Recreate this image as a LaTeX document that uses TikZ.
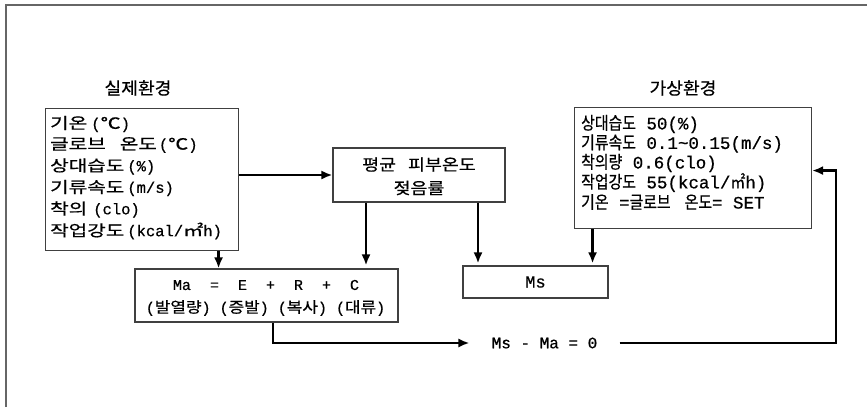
\documentclass[tikz,border=0pt]{standalone}
\usepackage{fontspec}
\setmainfont{Liberation Mono}[FakeBold=0.6]
\newfontfamily\krL{Noto Sans CJK KR}[FakeStretch=1.3,FakeBold=0.6]
\newfontfamily\krR{Noto Sans CJK KR}[FakeStretch=0.85,FakeBold=0.6]
\newfontfamily\krT{Noto Sans CJK KR}[FakeStretch=1.07,FakeBold=0.6]
\newfontfamily\krM{Noto Sans CJK KR}[FakeStretch=1.15,FakeBold=0.6]
\newfontfamily\krA{Noto Sans CJK KR}[FakeStretch=1.13,FakeBold=0.6]
\newcommand\kL[1]{{\krL #1}}
\newcommand\kR[1]{{\krR #1}}
\newcommand\kT[1]{{\krT #1}}
\newcommand\kM[1]{{\krM #1}}
\newcommand\kA[1]{{\krA #1}}
\usetikzlibrary{arrows.meta}
\begin{document}
\begin{tikzpicture}[x=1pt,y=-1pt,
  box/.style={draw=black!75, line width=1.1pt, inner sep=0pt},
  ltxt/.style={anchor=west, inner sep=0pt, font=\fontsize{15.5}{18}\selectfont},
  rtxt/.style={anchor=west, inner sep=0pt, font=\fontsize{17.5}{20}\selectfont},
  ctxt/.style={inner sep=0pt, font=\fontsize{16}{19}\selectfont},
  ttxt/.style={inner sep=0pt, font=\fontsize{17}{20}\selectfont},
  atxt/.style={inner sep=0pt, font=\fontsize{15}{18}\selectfont},
  conn/.style={line width=2.3pt, -{Latex[length=11pt,width=9pt]}}]
\useasboundingbox (0,0) rectangle (867,407);
\fill[white] (0,0) rectangle (867,407);
\draw[black!60, line width=2pt] (6,407) -- (6,5) -- (867,5);

% titles
\node[ttxt] (t1) at (138,88) {\kT{실제환경}};
\node[ttxt] (t2) at (683,88) {\kT{가상환경}};

% left box
\node[box, minimum width=193pt, minimum height=142pt, anchor=north west] (lbox) at (45,108) {};
\node[ltxt] (l1) at (50,124) {\kL{기온}\hspace{4pt}(\kL{℃})};
\node[ltxt] (l2) at (50,145) {\kL{글로브}\hspace{14pt}\kL{온도}\hspace{2pt}(\kL{℃})};
\node[ltxt] (l3) at (50,166.5) {\kL{상대습도}\hspace{3pt}(\%)};
\node[ltxt] (l4) at (50,188) {\kL{기류속도}\hspace{3pt}(m/s)};
\node[ltxt] (l5) at (50,209.5) {\kL{착의}\hspace{6pt}(clo)};
\node[ltxt] (l6) at (50,231) {\kL{작업강도}\hspace{3pt}(kcal/\kL{㎡}h)};

% middle box
\node[box, minimum width=172pt, minimum height=54pt] (mid) at (419,175) {};
\node[ctxt] (m1) at (419,164.5) {\kM{평균}\hspace{12pt}\kM{피부온도}};
\node[ctxt] (m2) at (419,188) {\kM{젖음률}};

% right box
\node[box, minimum width=237pt, minimum height=121pt, anchor=north west] (rbox) at (574,107) {};
\node[rtxt] (r1) at (581,124) {\kR{상대습도} 50(\%)};
\node[rtxt] (r2) at (581,143.5) {\kR{기류속도} 0.1\textasciitilde0.15(m/s)};
\node[rtxt] (r3) at (581,163) {\kR{착의량} 0.6(clo)};
\node[rtxt] (r4) at (581,182.5) {\kR{작업강도} 55(kcal/\kR{㎡}h)};
\node[rtxt] (r5) at (581,202) {\kR{기온} =\kR{글로브}\hspace{14pt}\kR{온도}= SET};

% Ma box
\node[box, minimum width=263pt, minimum height=53pt] (ma) at (266.5,295.5) {};
\node[atxt] (a1) at (266,285) {Ma\hspace{19pt}=\hspace{19pt}E\hspace{19pt}+\hspace{19pt}R\hspace{19pt}+\hspace{19pt}C};
\node[atxt] (a2) at (265.5,308) {(\kA{발열량}) (\kA{증발}) (\kA{복사}) (\kA{대류})};

% Ms box
\node[box, minimum width=145pt, minimum height=32pt] (ms) at (535.5,282) {};
\node[ttxt] (mst) at (535.5,282) {Ms};

% equation
\node[ctxt, inner xsep=22pt] (eq) at (544.5,343) {Ms - Ma = 0};
\coordinate (fb) at (836,343);

% connectors
\draw[conn] (mid.west -| lbox.east) -- (mid.west);
\draw[conn] ([xshift=76.5pt]lbox.south) -- ([xshift=76.5pt]lbox.south |- ma.north);
\draw[conn, shorten >=3pt] ([xshift=-53pt]mid.south) -- ([xshift=-53pt]mid.south |- ma.north);
\draw[conn, shorten >=2pt] ([xshift=59pt]mid.south) -- ([xshift=59pt]mid.south |- ms.north);
\draw[conn, shorten >=2pt] ([xshift=-100.5pt]rbox.south) -- ([xshift=-100.5pt]rbox.south |- ms.north);
\draw[conn] ([xshift=6.5pt]ma.south) |- (eq.west);
\draw[conn] (eq.east) -- (fb) |- ([yshift=-2.5pt]rbox.east);
\end{tikzpicture}
\end{document}
